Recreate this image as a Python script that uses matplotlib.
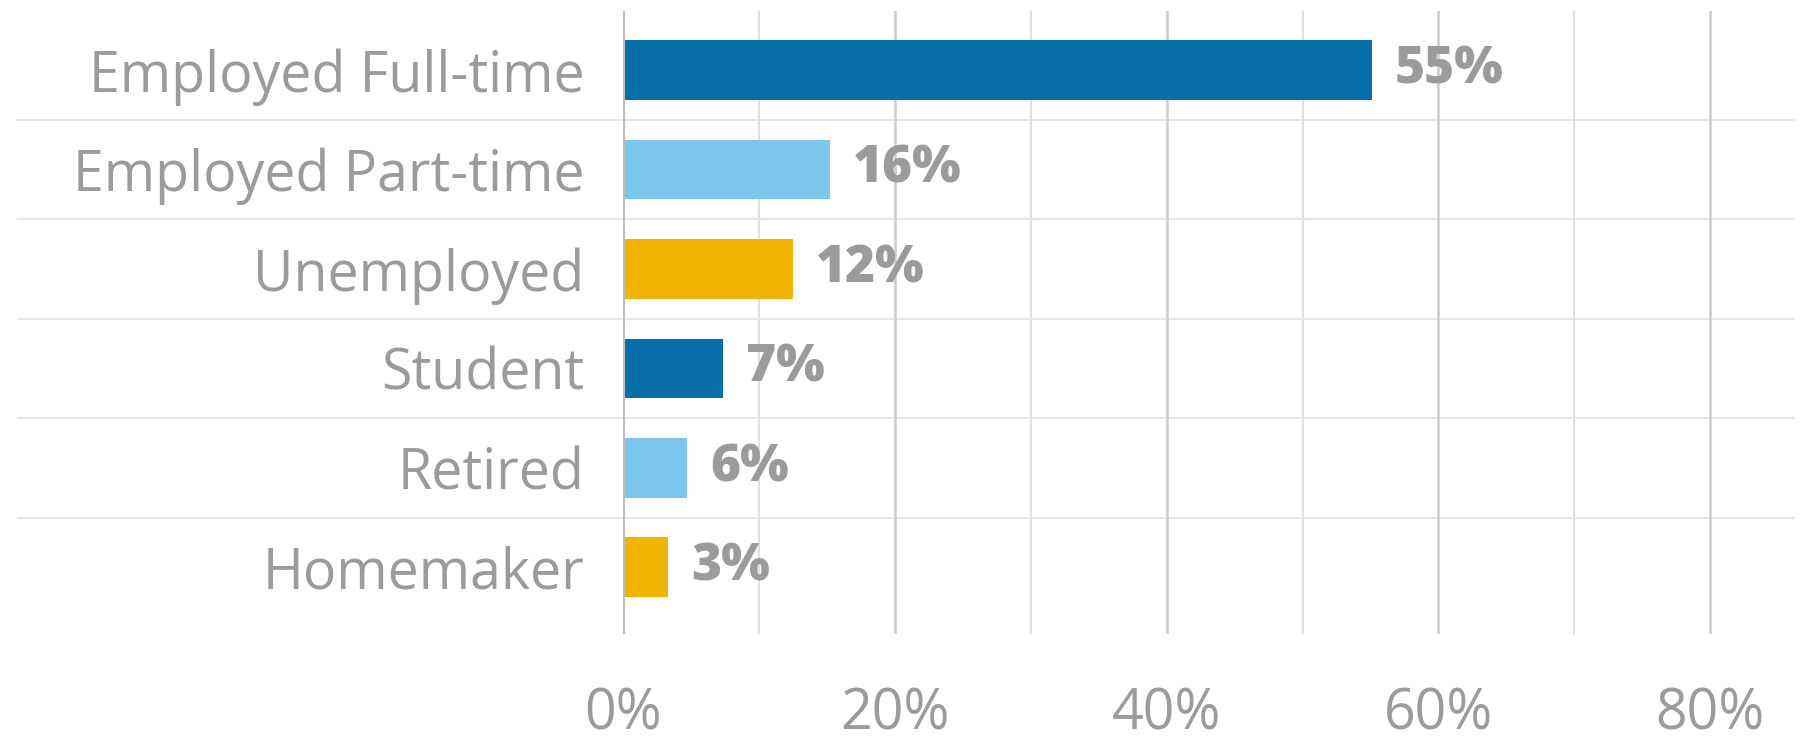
import matplotlib.pyplot as plt
from matplotlib.ticker import MultipleLocator, FuncFormatter

categories = ["Employed Full-time", "Employed Part-time", "Unemployed",
              "Student", "Retired", "Homemaker"]
bar_values = [55.1, 15.2, 12.5, 7.3, 4.7, 3.3]
value_labels = ["55%", "16%", "12%", "7%", "6%", "3%"]
bar_colors = ["#066ea8", "#7dc6ee", "#f0b400", "#066ea8", "#7dc6ee", "#f0b400"]

text_gray = "#9b9b9b"

plt.rcParams['font.family'] = ['Open Sans', 'DejaVu Sans']

fig = plt.figure(figsize=(18.07, 7.45), dpi=100)
ax = fig.add_axes([0.345, 0.149, 0.648, 0.836])

ypos = list(range(len(categories)))
ax.barh(ypos, bar_values, height=0.6, color=bar_colors, zorder=3)

for y, v, lab in zip(ypos, bar_values, value_labels):
    ax.text(v + 1.7, y, lab, va='center', ha='left', fontsize=37,
            fontweight='heavy', color=text_gray, zorder=4)

ax.set_xlim(0, 86.2)
ax.set_ylim(5.67, -0.59)

# vertical grid: darker every 20%, lighter in between
ax.xaxis.set_major_locator(MultipleLocator(20))
ax.xaxis.set_minor_locator(MultipleLocator(10))
ax.grid(axis='x', which='major', color='#cccccc', linewidth=1.8, zorder=0)
ax.grid(axis='x', which='minor', color='#e0e0e0', linewidth=1.5, zorder=0)
ax.axvline(0, color='#bdbdbd', linewidth=3, zorder=5)

# separators between categories, reaching under the labels
for y in [0.5, 1.5, 2.5, 3.5, 4.5]:
    ax.axhline(y, xmin=-0.517, xmax=1, color='#e6e6e6', linewidth=1.5,
               clip_on=False, zorder=1)

ax.xaxis.set_major_formatter(FuncFormatter(lambda x, p: f"{x:.0f}%"))
ax.set_yticks(ypos)
ax.set_yticklabels(categories)

ax.tick_params(axis='x', which='both', length=0, pad=38, labelsize=40,
               labelcolor=text_gray)
ax.tick_params(axis='y', length=0, pad=28, labelsize=40, labelcolor=text_gray)

for s in ax.spines.values():
    s.set_visible(False)

plt.savefig('out.png', dpi=100)
